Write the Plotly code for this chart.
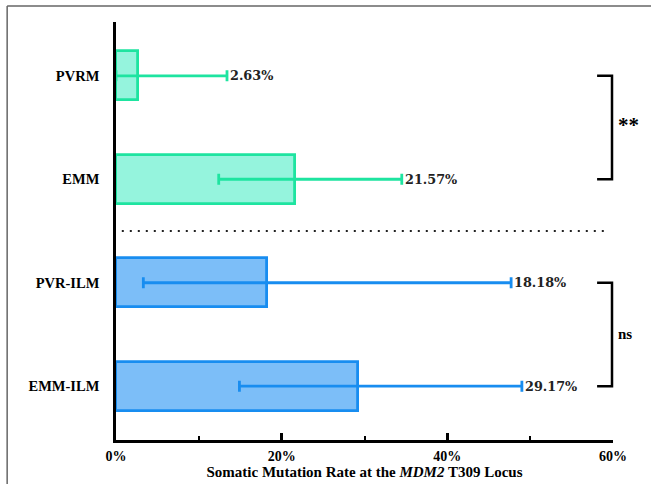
import plotly.graph_objects as go

# Groups, mutation rates (%) and 95% CI bounds (%)
groups = ["PVRM", "EMM", "PVR-ILM", "EMM-ILM"]
rates = [2.63, 21.57, 18.18, 29.17]
ci_low = [0.0, 12.4, 3.3, 14.9]
ci_high = [13.4, 34.5, 47.7, 49.0]
fill_colors = ["#95F4DD", "#95F4DD", "#7CBEF8", "#7CBEF8"]
edge_colors = ["#1EE4A0", "#1EE4A0", "#188DF0", "#188DF0"]
x_ticks = [0, 20, 40, 60]
x_ticklabels = ["0%", "20%", "40%", "60%"]
comparisons = [(0, 1, "**"), (2, 3, "ns")]

serif = "Liberation Serif"
value_font = "DejaVu Serif"

fig = go.Figure()
for i, g in enumerate(groups):
    fig.add_trace(go.Bar(
        y=[i], x=[rates[i]], orientation="h", width=0.47,
        marker=dict(color=fill_colors[i], line=dict(color=edge_colors[i], width=2.8)),
        error_x=dict(type="data", symmetric=False,
                     array=[ci_high[i] - rates[i]], arrayminus=[rates[i] - ci_low[i]],
                     color=edge_colors[i], thickness=2.8, width=5.5),
        showlegend=False, hoverinfo="skip",
    ))
    fig.add_annotation(x=ci_high[i], y=i, xref="x", yref="y", text=f"<b>{rates[i]:.2f}%</b>",
                       showarrow=False, xanchor="left", xshift=1,
                       font=dict(family=value_font, size=12.8, color="#222"))

shapes = []
# dotted separator between the two cohorts
shapes.append(dict(type="line", xref="x", yref="y", x0=0.7, x1=59.6, y0=1.5, y1=1.5,
                   line=dict(color="#222", width=2, dash="2px,6px")))

# significance brackets
x_arm0, x_arm1 = 0.968, 0.998
for a, b, label in comparisons:
    shapes.append(dict(type="path", xref="paper", yref="y",
                       path=f"M {x_arm0},{a} L {x_arm1},{a} L {x_arm1},{b} L {x_arm0},{b}",
                       line=dict(color="black", width=2.5)))
    fig.add_annotation(x=1.006, y=(a + b) / 2, xref="paper", yref="y",
                       text=f"<b>{label}</b>", showarrow=False, xanchor="left",
                       yshift=3 if label == "**" else 0,
                       font=dict(family=serif, size=21 if label == "**" else 15, color="black"))

# frame around the panel (left and top edges)
shapes.append(dict(type="line", xref="paper", yref="paper", x0=-0.219, x1=-0.219, y0=-0.2, y1=1.038,
                   line=dict(color="#666", width=1.5)))
shapes.append(dict(type="line", xref="paper", yref="paper", x0=-0.219, x1=1.2, y0=1.038, y1=1.038,
                   line=dict(color="#666", width=1.5)))

fig.update_layout(
    width=651, height=484,
    margin=dict(l=116, r=38, t=22, b=44),
    paper_bgcolor="white", plot_bgcolor="white",
    shapes=shapes,
    bargap=0,
    xaxis=dict(range=[0, 60], tickvals=x_ticks, ticktext=[f"<b>{t}</b>" for t in x_ticklabels],
               ticks="inside", ticklen=7, tickwidth=2.5, tickcolor="black",
               minor=dict(tickvals=[10, 30, 50], ticks="inside", ticklen=4, tickwidth=2, tickcolor="black"),
               showline=True, linecolor="black", linewidth=2.5, showgrid=False, zeroline=False,
               automargin=False, ticklabelstandoff=1,
               tickfont=dict(family=serif, size=14, color="black"),
               title=dict(text="<b>Somatic Mutation Rate at the <i>MDM2</i> T309 Locus</b>",
                          font=dict(family=serif, size=15, color="black"), standoff=2)),
    yaxis=dict(range=[3.52, -0.52], tickvals=list(range(len(groups))),
               ticktext=[f"<b>{g}</b>" for g in groups],
               ticks="", ticklabelstandoff=11, automargin=False,
               showline=True, linecolor="black", linewidth=2.5, showgrid=False, zeroline=False,
               tickfont=dict(family=serif, size=14.5, color="black")),
)

fig.write_html("out.html")
